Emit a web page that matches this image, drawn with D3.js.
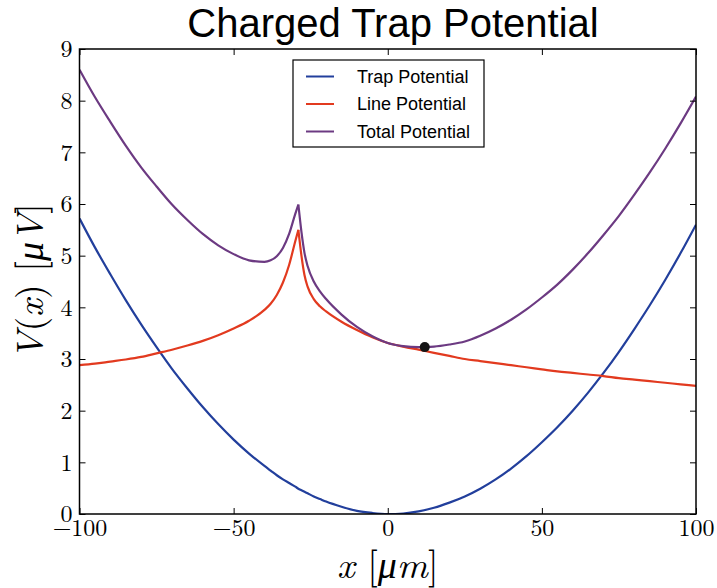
<!DOCTYPE html>
<html>
<head>
<meta charset="utf-8">
<script src="https://cdn.jsdelivr.net/npm/d3@7"></script>
<style>
  html, body { margin: 0; padding: 0; background: #fff; }
  svg { display: block; }
</style>
</head>
<body>
<svg id="chart" width="717" height="588"></svg>
<script>
// Sample positions along the trap axis, in µm (denser around the line charge)
const positions = [-100, -95, -90, -85, -80, -75, -70, -65, -60, -55, -50, -45, -40, -38, -36, -34, -32, -30, -29,
  -28, -27, -26, -24, -22, -20, -15, -10, -5, 0, 5, 10, 15, 20, 25, 30, 35, 40, 45, 50, 55, 60, 65, 70, 75, 80, 85, 90, 95, 100];

// Harmonic trap potential, µV
const trapPotential = [5.72, 5.16, 4.64, 4.14, 3.67, 3.23, 2.81, 2.43, 2.07, 1.74, 1.44, 1.17, 0.93, 0.84, 0.75, 0.67, 0.60, 0.53, 0.49,
  0.46, 0.43, 0.40, 0.34, 0.29, 0.24, 0.14, 0.06, 0.02, 0.00, 0.01, 0.05, 0.12, 0.22, 0.34, 0.49, 0.67, 0.88, 1.12, 1.39, 1.68, 2.00, 2.35, 2.73, 3.14, 3.58, 4.04, 4.53, 5.05, 5.60];

// Potential from the charged line, µV (cusp at -29 µm)
const linePotential = [2.88, 2.91, 2.95, 2.99, 3.04, 3.11, 3.18, 3.26, 3.35, 3.46, 3.59, 3.74, 3.95, 4.07, 4.24, 4.48, 4.82, 5.28, 5.50,
  5.00, 4.62, 4.40, 4.16, 4.02, 3.92, 3.72, 3.56, 3.42, 3.31, 3.24, 3.18, 3.12, 3.06, 3.00, 2.96, 2.92, 2.88, 2.84, 2.80, 2.76, 2.73, 2.70, 2.67, 2.63, 2.60, 2.57, 2.54, 2.51, 2.48];

// Sum of the two, µV
const totalPotential = [8.60, 8.07, 7.59, 7.13, 6.71, 6.34, 5.99, 5.69, 5.42, 5.20, 5.03, 4.91, 4.88, 4.91, 4.99, 5.15, 5.42, 5.81, 5.99,
  5.46, 5.05, 4.80, 4.50, 4.31, 4.16, 3.86, 3.62, 3.44, 3.31, 3.25, 3.23, 3.24, 3.28, 3.34, 3.45, 3.59, 3.76, 3.96, 4.19, 4.44, 4.73, 5.05, 5.40, 5.77, 6.18, 6.61, 7.07, 7.56, 8.08];

// Equilibrium point of the trapped charge
const equilibrium = { x: 12, v: 3.23 };

const seriesNames = ["Trap Potential", "Line Potential", "Total Potential"];
const seriesColors = ["#223f9c", "#e23a1f", "#6c3a82"];
const xTicks = [-100, -50, 0, 50, 100];
const yTicks = [0, 1, 2, 3, 4, 5, 6, 7, 8, 9];

const svg = d3.select("#chart");
const plotLeft = 79.5, plotRight = 696, plotTop = 49, plotBottom = 514;

const x = d3.scaleLinear().domain([-100, 100]).range([plotLeft, plotRight]);
const y = d3.scaleLinear().domain([0, 9]).range([plotBottom, plotTop]);

const minus = v => (v < 0 ? "\u2212" + Math.abs(v) : String(v));
const serif = "'Latin Modern Roman', 'Liberation Serif', 'DejaVu Serif', serif";

// Title
svg.append("text")
  .attr("x", 393).attr("y", 37)
  .attr("text-anchor", "middle")
  .style("font-family", "'Liberation Sans', Arial, Helvetica, sans-serif")
  .style("font-size", "40px")
  .text("Charged Trap Potential");

svg.append("defs").append("clipPath").attr("id", "plotclip")
  .append("rect").attr("x", plotLeft).attr("y", plotTop)
  .attr("width", plotRight - plotLeft).attr("height", plotBottom - plotTop);

// Curves
const seriesData = [trapPotential, linePotential, totalPotential];
const lineGen = d3.line().x(d => x(d[0])).y(d => y(d[1])).curve(d3.curveMonotoneX);
const plot = svg.append("g").attr("clip-path", "url(#plotclip)");
const peakIdx = positions.indexOf(-29);

seriesData.forEach((vals, i) => {
  const pts = positions.map((p, k) => [p, vals[k]]);
  // split at the cusp so it stays sharp
  const pieces = i === 0 ? [pts] : [pts.slice(0, peakIdx + 1), pts.slice(peakIdx)];
  pieces.forEach(seg => {
    plot.append("path")
      .datum(seg)
      .attr("d", lineGen)
      .attr("fill", "none")
      .attr("stroke", seriesColors[i])
      .attr("stroke-width", 2.2)
      .attr("stroke-linejoin", "round");
  });
});

plot.append("circle")
  .attr("cx", x(equilibrium.x)).attr("cy", y(equilibrium.v))
  .attr("r", 5).attr("fill", "#151515");

// Axes with inward ticks
const axisStyle = g => {
  g.select(".domain").remove();
  g.selectAll(".tick line").attr("stroke", "#000").attr("stroke-width", 1);
  g.selectAll("text").style("font-family", serif).style("font-size", "24px").attr("fill", "#000");
};

svg.append("g").attr("transform", `translate(0,${plotBottom})`)
  .call(d3.axisBottom(x).tickValues(xTicks).tickFormat(minus).tickSizeInner(-6).tickSizeOuter(0).tickPadding(5))
  .call(axisStyle);
svg.append("g").attr("transform", `translate(${plotLeft},0)`)
  .call(d3.axisLeft(y).tickValues(yTicks).tickFormat(d => String(d)).tickSizeInner(-6).tickSizeOuter(0).tickPadding(7))
  .call(axisStyle);
svg.append("g").attr("transform", `translate(0,${plotTop})`)
  .call(d3.axisTop(x).tickValues(xTicks).tickFormat("").tickSizeInner(-6).tickSizeOuter(0))
  .call(axisStyle);
svg.append("g").attr("transform", `translate(${plotRight},0)`)
  .call(d3.axisRight(y).tickValues(yTicks).tickFormat("").tickSizeInner(-6).tickSizeOuter(0))
  .call(axisStyle);

svg.append("rect")
  .attr("x", plotLeft).attr("y", plotTop)
  .attr("width", plotRight - plotLeft).attr("height", plotBottom - plotTop)
  .attr("fill", "none").attr("stroke", "#000").attr("stroke-width", 1.5);

// Axis labels
const xl = svg.append("text")
  .attr("x", (plotLeft + plotRight) / 2).attr("y", 578)
  .attr("text-anchor", "middle")
  .style("font-family", serif).style("font-size", "38px");
xl.append("tspan").style("font-style", "italic").text("x");
xl.append("tspan").text(" [");
xl.append("tspan").style("font-style", "italic").text("\u03bcm");
xl.append("tspan").text("]");

const yl = svg.append("text")
  .attr("transform", `translate(43,${(plotTop + plotBottom) / 2}) rotate(-90)`)
  .attr("text-anchor", "middle")
  .style("font-family", serif).style("font-size", "38px");
yl.append("tspan").style("font-style", "italic").text("V");
yl.append("tspan").text("(");
yl.append("tspan").style("font-style", "italic").text("x");
yl.append("tspan").text(") [");
yl.append("tspan").style("font-style", "italic").text("\u03bcV");
yl.append("tspan").text("]");

// Legend
const legend = svg.append("g").attr("transform", "translate(293,60)");
legend.append("rect").attr("width", 191).attr("height", 87)
  .attr("fill", "#fff").attr("stroke", "#000").attr("stroke-width", 1.2);
seriesNames.forEach((name, i) => {
  const ry = 16.5 + i * 27.5;
  legend.append("line").attr("x1", 13).attr("x2", 41).attr("y1", ry).attr("y2", ry)
    .attr("stroke", seriesColors[i]).attr("stroke-width", 2);
  legend.append("text").attr("x", 64).attr("y", ry + 6)
    .style("font-family", "'Liberation Sans', Arial, Helvetica, sans-serif")
    .style("font-size", "18px")
    .text(name);
});
</script>
</body>
</html>
